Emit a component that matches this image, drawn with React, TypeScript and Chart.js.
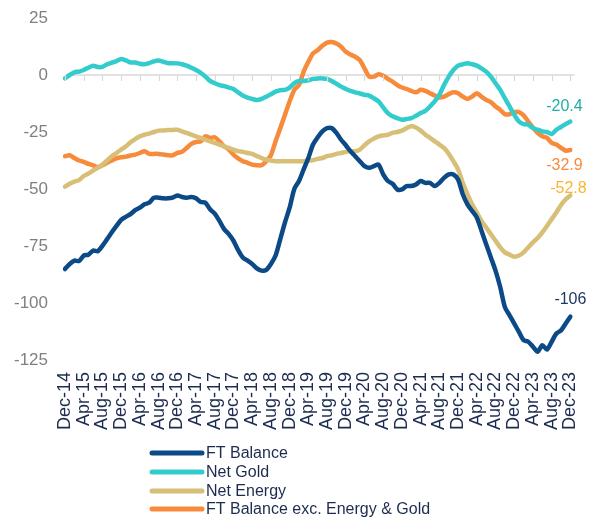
import React, { useEffect, useRef } from "react";
import { Chart, registerables } from "chart.js";

Chart.register(...registerables);

// Monthly categories Dec-14 .. Dec-23
const MONTH_NAMES = ["Jan", "Feb", "Mar", "Apr", "May", "Jun", "Jul", "Aug", "Sep", "Oct", "Nov", "Dec"];
const START_YEAR = 2014;
const START_MONTH = 11; // December
const N_MONTHS = 109;
const CATEGORIES: string[] = [];
for (let i = 0; i < N_MONTHS; i++) {
  const m = (START_MONTH + i) % 12;
  const y = START_YEAR + Math.floor((START_MONTH + i) / 12);
  CATEGORIES.push(`${MONTH_NAMES[m]}-${String(y).slice(2)}`);
}

const TICK_LABELS = [
  "Dec-14", "Apr-15", "Aug-15", "Dec-15", "Apr-16", "Aug-16", "Dec-16", "Apr-17", "Aug-17", "Dec-17",
  "Apr-18", "Aug-18", "Dec-18", "Apr-19", "Aug-19", "Dec-19", "Apr-20", "Aug-20", "Dec-20", "Apr-21",
  "Aug-21", "Dec-21", "Apr-22", "Aug-22", "Dec-22", "Apr-23", "Aug-23", "Dec-23",
];

const Y_TICKS = [-125, -100, -75, -50, -25, 0, 25];

const FT_BALANCE = [
  -85.1, -82.9, -81.4, -81.6, -79.2, -78.8, -77.0, -77.3, -74.9, -72.0,
  -69.0, -66.2, -63.5, -62.2, -61.0, -59.3, -58.2, -56.7, -56.0, -53.8,
  -53.8, -54.1, -54.1, -53.8, -52.8, -53.5, -53.8, -53.5, -54.1, -55.7,
  -56.0, -58.9, -60.8, -64.0, -67.6, -69.8, -72.7, -76.8, -80.0, -81.4,
  -82.9, -84.8, -85.8, -85.5, -82.9, -79.2, -72.0, -64.7, -58.2, -50.0,
  -46.5, -41.4, -36.4, -30.5, -27.3, -24.7, -23.3, -23.3, -25.4, -28.4,
  -30.8, -33.4, -35.6, -37.8, -40.0, -40.7, -40.0, -39.3, -43.6, -46.5,
  -47.7, -50.2, -50.2, -48.7, -48.7, -48.0, -46.5, -47.3, -47.3, -48.7,
  -47.3, -45.1, -43.6, -43.6, -45.8, -52.3, -56.7, -59.6, -62.5, -68.3,
  -74.2, -80.0, -85.8, -93.0, -101.8, -105.4, -109.0, -112.7, -116.3, -117.0,
  -119.2, -121.4, -118.5, -120.4, -117.0, -113.4, -112.0, -109.0, -106.0,
];

const NET_GOLD = [
  -1.5, 0.0, 1.2, 1.5, 2.2, 3.2, 4.1, 3.5, 3.6, 4.7,
  5.4, 6.1, 7.0, 6.4, 5.5, 5.5, 4.9, 4.7, 5.2, 6.0,
  6.4, 5.8, 5.2, 5.2, 5.1, 4.7, 4.1, 3.2, 2.2, 1.0,
  -0.7, -2.6, -3.6, -4.4, -4.9, -5.5, -6.1, -7.6, -9.0, -9.9,
  -10.5, -11.0, -10.5, -9.5, -8.4, -7.3, -6.7, -6.5, -5.5, -3.6,
  -2.6, -2.6, -2.3, -1.7, -1.5, -1.5, -1.7, -2.6, -3.8, -5.1,
  -6.1, -7.0, -7.6, -8.1, -8.7, -9.0, -10.2, -11.6, -14.2, -16.7,
  -18.1, -18.9, -19.6, -19.3, -18.9, -17.9, -16.7, -15.7, -13.8, -11.6,
  -8.7, -4.4, -0.7, 2.2, 4.1, 4.7, 5.1, 4.7, 4.1, 2.9,
  1.5, -0.7, -3.6, -6.5, -10.2, -13.8, -17.4, -20.4, -21.5, -21.8,
  -23.3, -24.0, -24.7, -25.0, -25.9, -24.0, -22.8, -21.5, -20.4,
];

const NET_ENERGY = [
  -49.0, -47.7, -46.8, -46.1, -44.3, -43.2, -41.9, -40.7, -39.3, -37.5,
  -35.6, -34.2, -32.7, -31.3, -29.5, -28.1, -26.9, -26.2, -25.7, -25.0,
  -24.4, -24.3, -24.1, -24.1, -24.0, -24.7, -25.4, -26.2, -26.9, -27.6,
  -28.4, -29.1, -29.8, -30.5, -31.3, -32.0, -32.7, -33.4, -33.7, -34.2,
  -34.6, -35.6, -36.4, -37.1, -37.5, -37.8, -37.8, -37.8, -37.8, -37.8,
  -37.8, -37.8, -37.5, -37.4, -36.8, -36.4, -35.6, -35.2, -34.6, -34.2,
  -33.7, -33.4, -33.4, -32.7, -30.8, -29.1, -27.9, -26.9, -26.5, -26.2,
  -25.4, -25.0, -24.4, -23.3, -22.5, -23.0, -24.4, -26.2, -27.6, -29.1,
  -30.5, -32.0, -34.6, -37.8, -41.4, -47.3, -52.3, -56.7, -60.3, -64.0,
  -66.9, -69.8, -72.7, -75.6, -77.8, -78.8, -79.7, -79.2, -77.8, -75.6,
  -73.4, -71.5, -69.0, -66.2, -63.2, -60.3, -57.0, -54.5, -52.8,
];

const FT_EXC = [
  -35.6, -35.2, -36.4, -37.5, -38.1, -39.0, -39.6, -40.4, -39.6, -38.5,
  -37.5, -36.6, -36.1, -35.8, -35.3, -34.9, -34.2, -33.4, -34.6, -34.6,
  -34.6, -34.9, -35.2, -35.2, -34.2, -33.7, -32.0, -30.2, -29.4, -29.1,
  -26.9, -27.6, -27.3, -29.1, -31.3, -32.7, -34.9, -36.6, -37.8, -38.5,
  -39.3, -39.6, -39.6, -37.8, -35.2, -29.1, -23.3, -17.4, -11.6, -6.5,
  -4.4, 1.5, 5.8, 9.5, 10.9, 12.8, 14.2, 14.5, 13.8, 12.4,
  10.2, 9.0, 8.0, 6.5, 2.9, -0.7, -0.7, 0.3, -0.3, -1.7,
  -2.9, -4.4, -5.5, -6.1, -7.0, -7.6, -6.5, -7.0, -8.0, -9.0,
  -9.9, -9.5, -8.4, -7.6, -8.0, -9.5, -10.5, -9.5, -8.0, -9.5,
  -10.9, -11.9, -13.8, -15.3, -17.2, -17.2, -16.3, -16.3, -17.7, -20.4,
  -23.0, -25.4, -26.9, -27.6, -29.8, -30.5, -32.0, -33.2, -32.9,
];

const SERIES_NAMES = ["FT Balance", "Net Gold", "Net Energy", "FT Balance exc. Energy & Gold"];
const END_LABELS = ["-106", "-20.4", "-52.8", "-32.9"];

const LINE_COLORS = ["#0b4a86", "#33cccc", "#d8bf77", "#f78b3b"];
const END_LABEL_COLORS = ["#1f3864", "#1fada6", "#fbb531", "#f78b3b"];
const END_LABEL_OFFSETS = [
  [0, -17],
  [-6, -15],
  [-2, -7],
  [-6, 16],
];

const FONT = "'Liberation Sans', Arial, Helvetica, sans-serif";
const NAVY_TEXT = "#1c2b4f";

const zeroTicksPlugin = {
  id: "zeroTicks",
  afterDraw(chart: any) {
    const { ctx, scales } = chart;
    const x = scales.x;
    const y = scales.y;
    const y0 = y.getPixelForValue(0);
    ctx.save();
    ctx.strokeStyle = "#d9d9d9";
    ctx.lineWidth = 1.2;
    CATEGORIES.forEach((c, i) => {
      if (!TICK_LABELS.includes(c)) return;
      const px = Math.round(x.getPixelForValue(i)) + 0.5;
      ctx.beginPath();
      ctx.moveTo(px, y0);
      ctx.lineTo(px, y0 + 6);
      ctx.stroke();
    });
    ctx.restore();
  },
  beforeDatasetsDraw(chart: any) {
    const { ctx, scales, chartArea } = chart;
    const y0 = scales.y.getPixelForValue(0);
    ctx.save();
    ctx.strokeStyle = "#d9d9d9";
    ctx.lineWidth = 1.5;
    ctx.beginPath();
    ctx.moveTo(chartArea.left, y0);
    ctx.lineTo(chartArea.right + 4, y0);
    ctx.stroke();
    ctx.restore();
  },
};

const endLabelsPlugin = {
  id: "endLabels",
  afterDatasetsDraw(chart: any) {
    const { ctx } = chart;
    ctx.save();
    ctx.font = `16px ${FONT}`;
    ctx.textAlign = "center";
    ctx.textBaseline = "middle";
    chart.data.datasets.forEach((ds: any, i: number) => {
      const meta = chart.getDatasetMeta(i);
      const pt = meta.data[meta.data.length - 1];
      if (!pt) return;
      ctx.fillStyle = END_LABEL_COLORS[i];
      ctx.fillText(END_LABELS[i], pt.x + END_LABEL_OFFSETS[i][0], pt.y + END_LABEL_OFFSETS[i][1]);
    });
    ctx.restore();
  },
};

const stackedLegendPlugin = {
  id: "stackedLegend",
  afterDraw(chart: any) {
    const { ctx } = chart;
    const x0 = 152;
    const lineLen = 50;
    const textX = 206;
    const rowY = [453, 472, 491, 509];
    ctx.save();
    ctx.font = `16px ${FONT}`;
    ctx.textBaseline = "middle";
    ctx.textAlign = "left";
    chart.data.datasets.forEach((ds: any, i: number) => {
      const y = rowY[i];
      ctx.strokeStyle = ds.borderColor;
      ctx.lineWidth = 5;
      ctx.lineCap = "round";
      ctx.beginPath();
      ctx.moveTo(x0, y);
      ctx.lineTo(x0 + lineLen, y);
      ctx.stroke();
      ctx.fillStyle = NAVY_TEXT;
      ctx.fillText(ds.label, textX, y + 1);
    });
    ctx.restore();
  },
};

export default function App() {
  const canvasRef = useRef<HTMLCanvasElement | null>(null);

  useEffect(() => {
    if (!canvasRef.current) return;
    const seriesData = [FT_BALANCE, NET_GOLD, NET_ENERGY, FT_EXC];
    const chart = new Chart(canvasRef.current, {
      type: "line",
      data: {
        labels: CATEGORIES,
        datasets: SERIES_NAMES.map((name, i) => ({
          label: name,
          data: seriesData[i],
          borderColor: LINE_COLORS[i],
          backgroundColor: LINE_COLORS[i],
          borderWidth: 4.5,
          pointRadius: 0,
          pointHoverRadius: 0,
          tension: 0.25,
          borderCapStyle: "round",
          borderJoinStyle: "round",
          fill: false,
        })),
      },
      options: {
        animation: false,
        responsive: true,
        maintainAspectRatio: false,
        layout: { padding: { left: 0, right: 21, top: 18, bottom: 0 } },
        plugins: {
          legend: { display: false },
          tooltip: { enabled: false },
        },
        scales: {
          x: {
            type: "category",
            grid: { display: false, drawTicks: false },
            border: { display: false },
            afterFit: (scale: any) => {
              scale.height = 158;
            },
            ticks: {
              autoSkip: false,
              maxRotation: 90,
              minRotation: 90,
              padding: 12,
              color: NAVY_TEXT,
              font: { family: FONT, size: 18 },
              callback: function (this: any, value: any, index: number) {
                const lbl = CATEGORIES[index];
                return TICK_LABELS.includes(lbl) ? lbl : "";
              },
            },
          },
          y: {
            min: -125,
            max: 25,
            afterFit: (scale: any) => {
              scale.width = 65;
              scale.paddingTop = 0;
              scale.paddingBottom = 0;
            },
            afterBuildTicks: (scale: any) => {
              scale.ticks = Y_TICKS.map((v) => ({ value: v }));
            },
            grid: { display: false, drawTicks: false },
            border: { display: false },
            ticks: {
              padding: 17,
              color: "#808080",
              font: { family: FONT, size: 17 },
            },
          },
        },
      },
      plugins: [zeroTicksPlugin, endLabelsPlugin, stackedLegendPlugin],
    });
    return () => chart.destroy();
  }, []);

  return (
    <div style={{ position: "absolute", left: 0, top: 0, width: 604, height: 518, background: "#ffffff" }}>
      <canvas ref={canvasRef} />
    </div>
  );
}
